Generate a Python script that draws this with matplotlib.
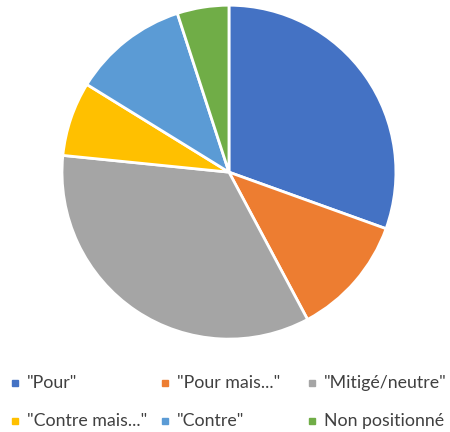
import matplotlib.pyplot as plt
from matplotlib.lines import Line2D

labels = ['"Pour"', '"Pour mais..."', '"Mitigé/neutre"',
          '"Contre mais..."', '"Contre"', 'Non positionné']
values = [30.5, 11.7, 34.4, 7.2, 11.2, 5.0]
colors = ['#4472C4', '#ED7D31', '#A5A5A5', '#FFC000', '#5B9BD5', '#70AD47']

fig = plt.figure(figsize=(4.5, 4.32), dpi=100)
ax = fig.add_axes([0.1378, 0.215, 0.742, 0.773])
ax.pie(values, colors=colors, startangle=90, counterclock=False,
       wedgeprops=dict(edgecolor='white', linewidth=2))
ax.set_xlim(-1, 1)
ax.set_ylim(-1, 1)
ax.set_aspect('equal')
ax.axis('off')

# legend laid out by hand, 3 columns x 2 rows
col_x = [15, 165, 312]
row_y = [383, 421]
for i, (lab, c) in enumerate(zip(labels, colors)):
    x = col_x[i % 3] / 450
    y = 1 - row_y[i // 3] / 432
    fig.add_artist(Line2D([x], [y], marker='s', markersize=5, color=c,
                          linestyle='none', transform=fig.transFigure))
    fig.text(x + 12 / 450, y, lab, fontsize=12.8, family='Lato',
             color='#404040', va='center', ha='left')

fig.savefig('out.png', dpi=100)
